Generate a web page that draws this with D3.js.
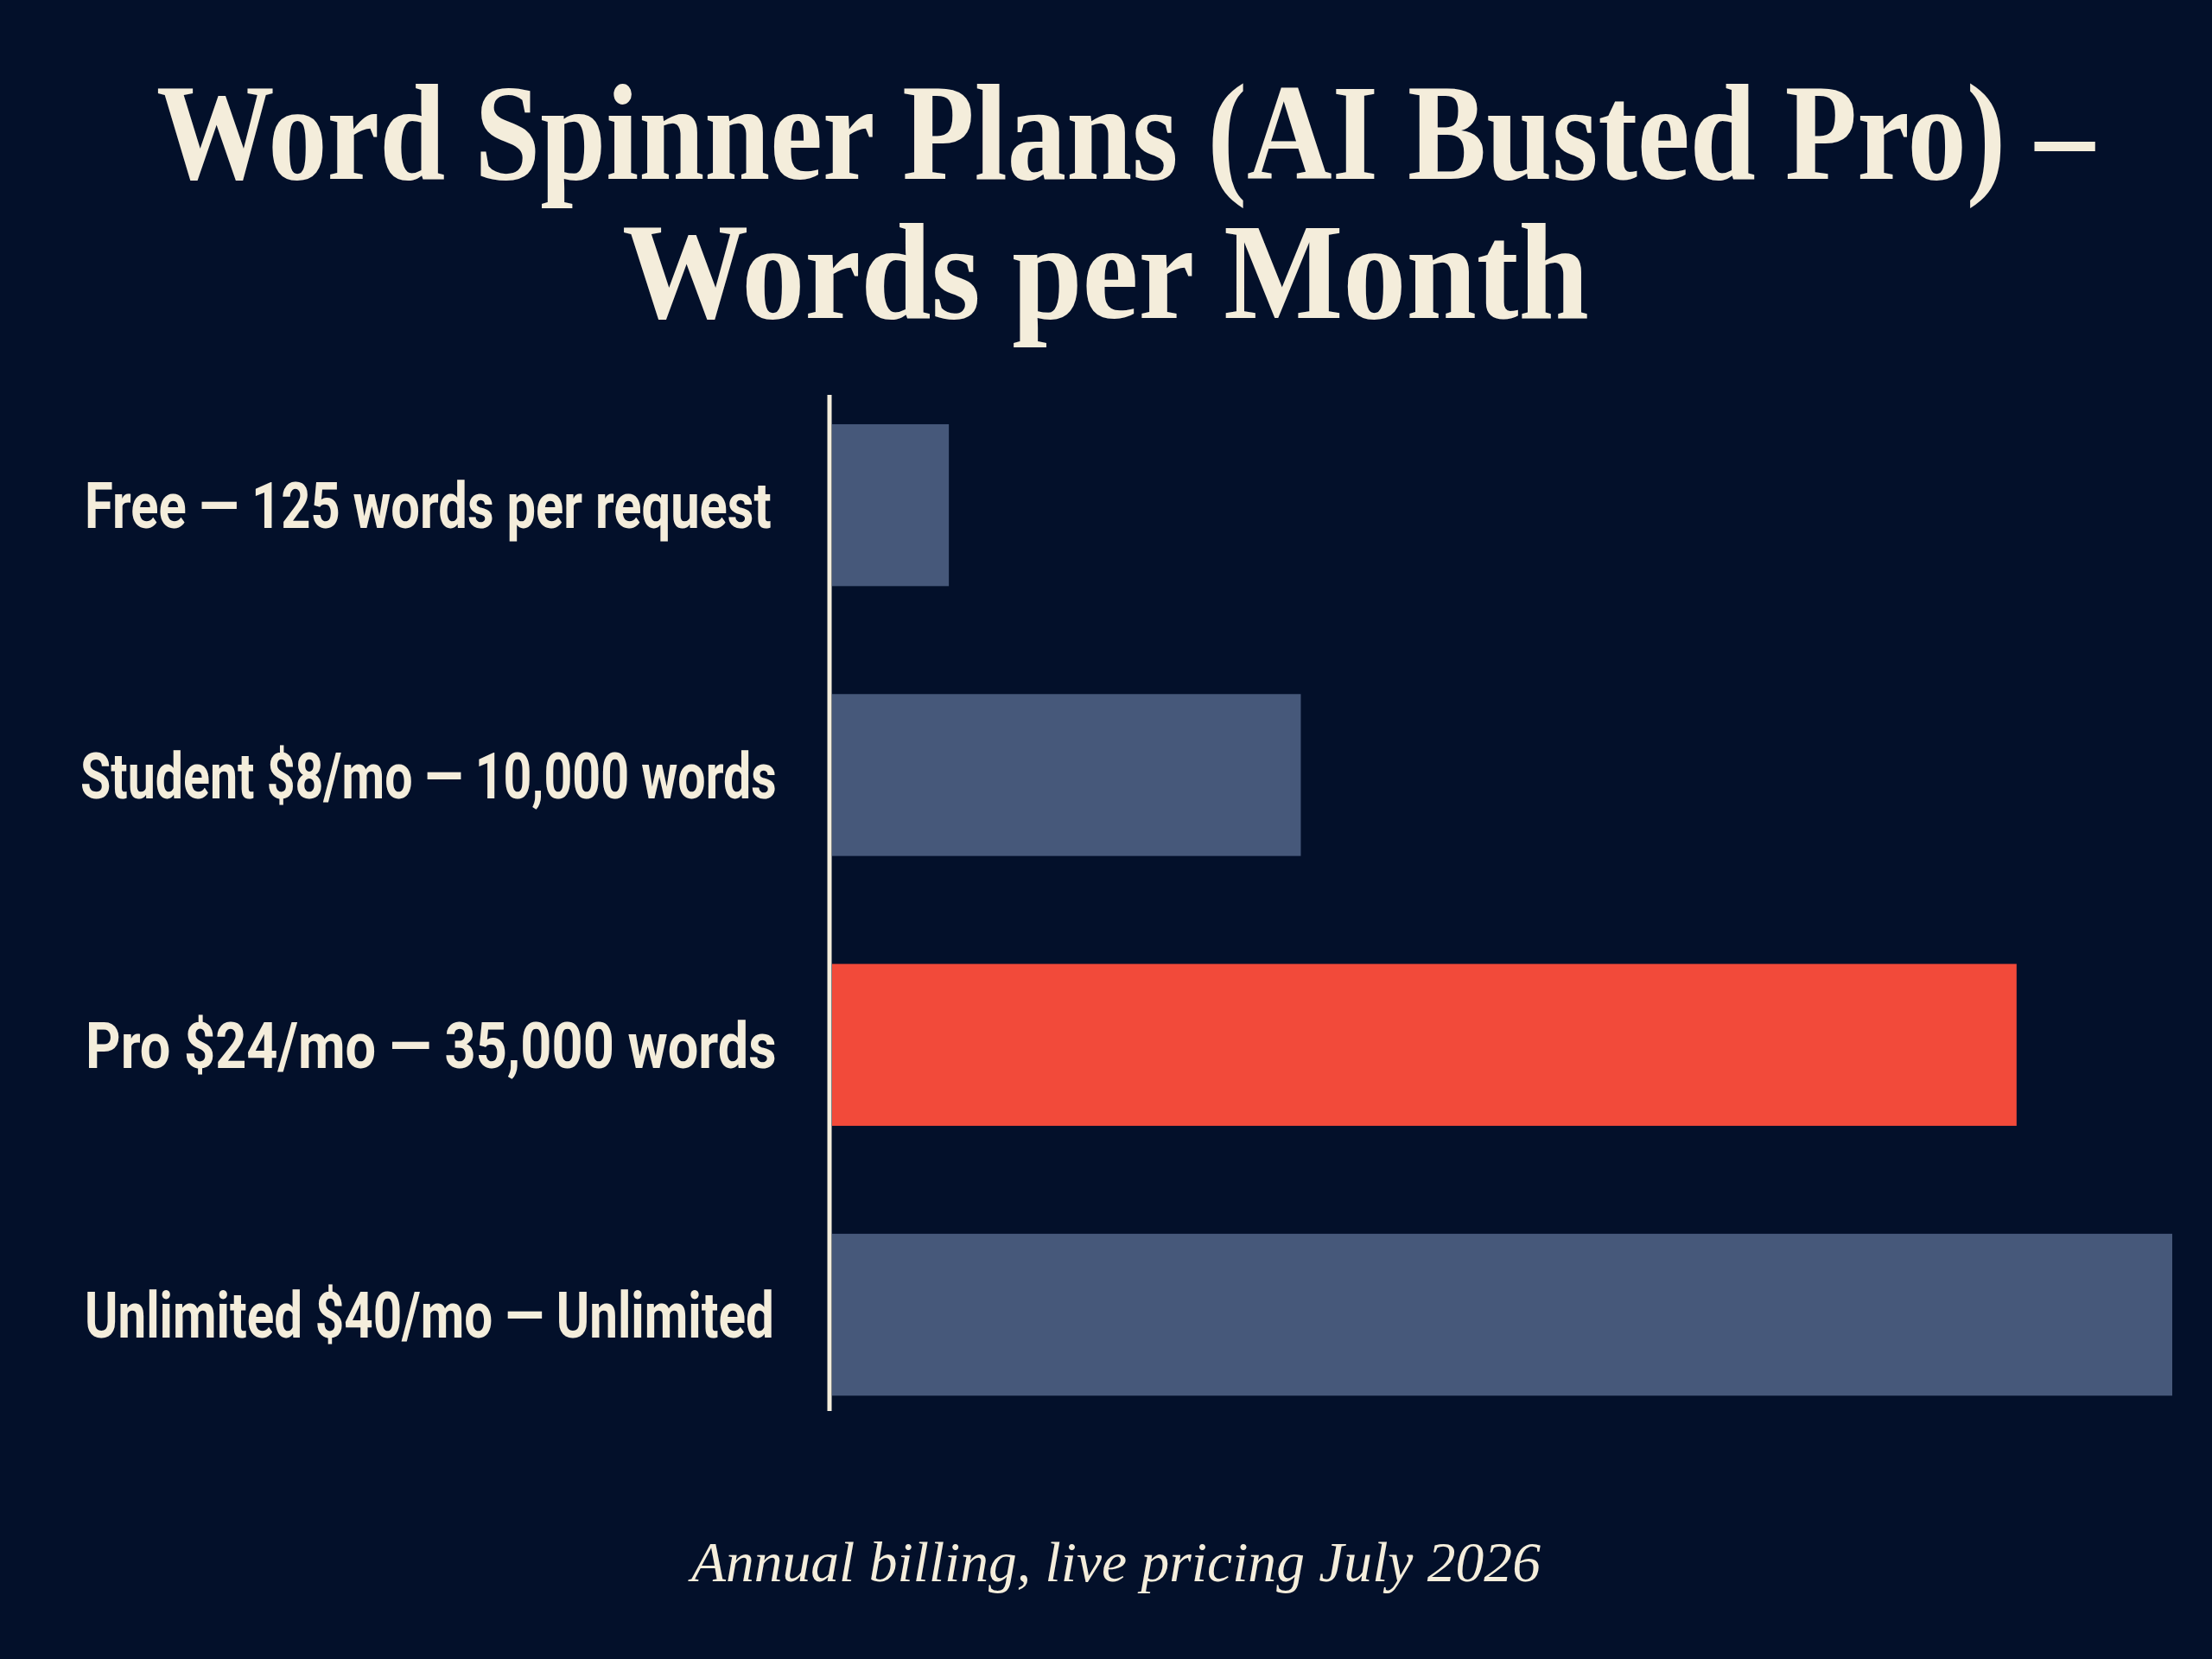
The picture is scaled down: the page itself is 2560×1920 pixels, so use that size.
<!DOCTYPE html>
<html>
<head>
<meta charset="utf-8">
<script src="https://cdn.jsdelivr.net/npm/d3@7"></script>
<style>
  html, body { margin: 0; padding: 0; background: #03102a; }
  svg { display: block; }
</style>
</head>
<body>
<div id="chart"></div>
<script>
// ---- data ----
const categories = [
  "Free — 125 words per request",
  "Student $8/mo — 10,000 words",
  "Pro $24/mo — 35,000 words",
  "Unlimited $40/mo — Unlimited"
];
// bar lengths (words per month scale; Unlimited drawn as the cap)
const values = [3450, 13850, 35000, 39600];
const highlight = [false, false, true, false];
const titleLines = ["Word Spinner Plans (AI Busted Pro) –", "Words per Month"];
const footnote = "Annual billing, live pricing July 2026";

// ---- layout ----
const W = 2560, H = 1920;
const BG = "#03102a", CREAM = "#f4eddb", SLATE = "#46587a", RED = "#f24a3a";
const labelBox = [[98, 893], [93, 899], [99, 899], [98, 896]];

const svg = d3.select("#chart").append("svg")
  .attr("width", W).attr("height", H);

svg.append("rect").attr("width", W).attr("height", H).attr("fill", BG);

const x = d3.scaleLinear().domain([0, d3.max(values)]).range([963, 2514]);
const y = d3.scaleBand().domain(categories)
  .range([428.5, 1677.7]).paddingInner(0.4).paddingOuter(0.2);

// bars
svg.append("g").selectAll("rect")
  .data(categories)
  .join("rect")
  .attr("x", x(0))
  .attr("y", d => y(d))
  .attr("width", (d, i) => x(values[i]) - x(0))
  .attr("height", y.bandwidth())
  .attr("fill", (d, i) => highlight[i] ? RED : SLATE);

// axis line
svg.append("line")
  .attr("x1", 960).attr("x2", 960)
  .attr("y1", 457).attr("y2", 1633)
  .attr("stroke", CREAM).attr("stroke-width", 5);

// helper: fit a text horizontally into [x0, x1] via scaleX transform
function fitText(sel, x0, x1, baseY) {
  const w = sel.node().getComputedTextLength();
  const sx = (x1 - x0) / w;
  sel.attr("x", 0).attr("y", 0)
     .attr("text-anchor", "start")
     .attr("transform", `translate(${x0},${baseY}) scale(${sx},1)`);
}

// category labels
const labelFont = 75;
svg.append("g").selectAll("text")
  .data(categories)
  .join("text")
  .attr("font-family", "Roboto, 'Liberation Sans', sans-serif")
  .attr("font-weight", 700)
  .attr("font-size", labelFont)
  .attr("fill", CREAM)
  .text(d => d)
  .each(function(d, i) {
    fitText(d3.select(this), labelBox[i][0], labelBox[i][1],
      y(d) + y.bandwidth() / 2 + 0.711 * labelFont / 2);
  });

// title
const titleSpecs = [
  { x0: 181, x1: 2424, base: 207 },
  { x0: 720, x1: 1839, base: 368 }
];
svg.append("g").selectAll("text")
  .data(titleLines)
  .join("text")
  .attr("font-family", "'Liberation Serif', 'DejaVu Serif', serif")
  .attr("font-weight", 700)
  .attr("font-size", 158)
  .attr("fill", CREAM)
  .text(d => d)
  .each(function(d, i) {
    fitText(d3.select(this), titleSpecs[i].x0, titleSpecs[i].x1, titleSpecs[i].base);
  });

// footnote
const foot = svg.append("text")
  .attr("font-family", "'Liberation Serif', 'DejaVu Serif', serif")
  .attr("font-style", "italic")
  .attr("font-size", 66)
  .attr("fill", CREAM)
  .text(footnote);
fitText(foot, 800, 1783, 1830);
</script>
</body>
</html>
